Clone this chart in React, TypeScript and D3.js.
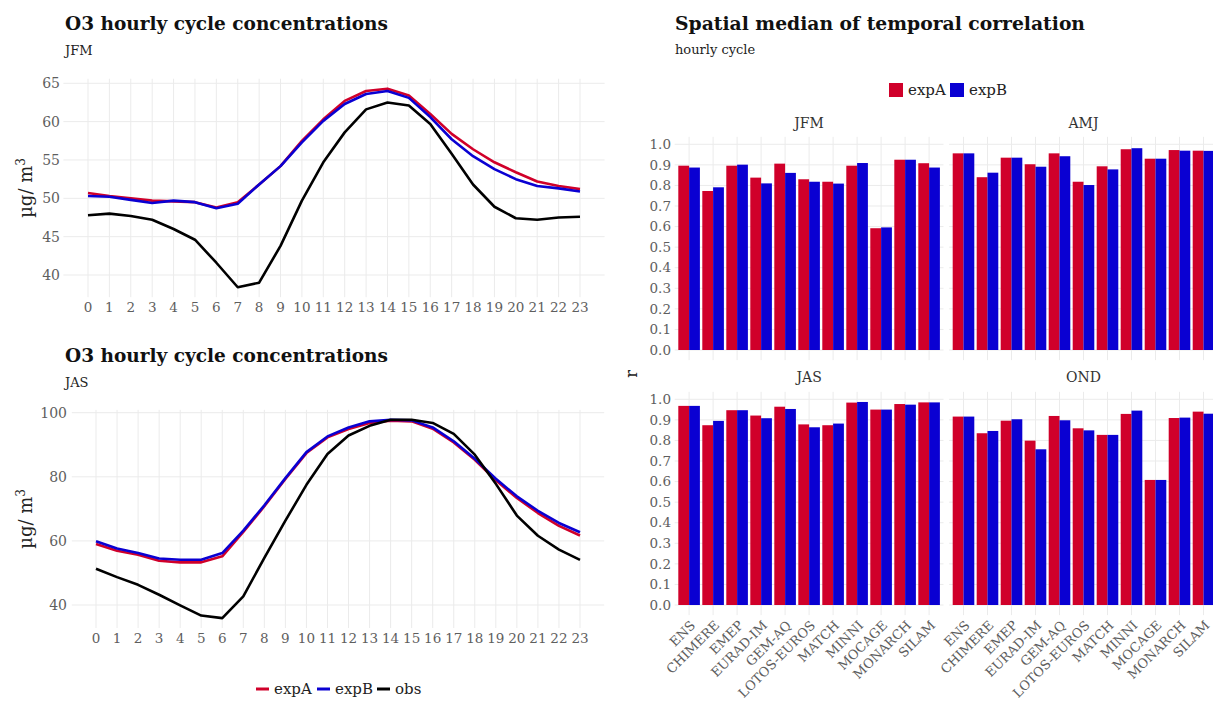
import React from "react";
import * as d3 from "d3";

// ---------- DATA ----------
const HOURS = [0, 1, 2, 3, 4, 5, 6, 7, 8, 9, 10, 11, 12, 13, 14, 15, 16, 17, 18, 19, 20, 21, 22, 23];

const jfmExpA = [50.7, 50.3, 50.0, 49.7, 49.6, 49.5, 48.8, 49.5, 51.8, 54.2, 57.5, 60.3, 62.7, 64.0, 64.3, 63.4, 61.0, 58.4, 56.4, 54.7, 53.4, 52.2, 51.6, 51.2];
const jfmExpB = [50.3, 50.2, 49.8, 49.4, 49.7, 49.5, 48.7, 49.3, 51.8, 54.2, 57.3, 60.1, 62.3, 63.6, 64.0, 63.1, 60.6, 57.7, 55.5, 53.8, 52.5, 51.6, 51.3, 50.9];
const jfmObs = [47.8, 48.0, 47.7, 47.2, 46.0, 44.6, 41.6, 38.4, 39.0, 43.8, 49.7, 54.7, 58.6, 61.6, 62.5, 62.1, 59.7, 55.8, 51.8, 48.9, 47.4, 47.2, 47.5, 47.6];

const jasExpA = [59.0, 56.9, 55.7, 53.8, 53.3, 53.3, 55.2, 62.8, 70.8, 79.3, 87.4, 92.3, 94.9, 96.8, 97.5, 97.3, 95.0, 90.7, 85.3, 78.9, 73.4, 68.7, 64.7, 61.7];
const jasExpB = [59.9, 57.6, 56.2, 54.5, 54.1, 54.1, 56.2, 63.2, 71.1, 79.6, 87.7, 92.6, 95.4, 97.3, 97.8, 97.6, 95.4, 91.1, 85.6, 79.4, 73.9, 69.4, 65.6, 62.7];
const jasObs = [51.3, 48.7, 46.3, 43.2, 39.9, 36.7, 35.9, 42.7, 54.7, 66.3, 77.5, 87.1, 92.9, 95.9, 97.8, 97.8, 96.8, 93.4, 86.9, 77.8, 67.9, 61.6, 57.3, 54.1];

const jfmTicks = [40, 45, 50, 55, 60, 65];
const jasTicks = [40, 60, 80, 100];

const MODELS = ["ENS", "CHIMERE", "EMEP", "EURAD-IM", "GEM-AQ", "LOTOS-EUROS", "MATCH", "MINNI", "MOCAGE", "MONARCH", "SILAM"];
const SEASONS = ["JFM", "AMJ", "JAS", "OND"];
const EXPS = ["expA", "expB"];

const corrJFM_A = [0.896, 0.773, 0.896, 0.838, 0.906, 0.830, 0.818, 0.896, 0.592, 0.925, 0.908];
const corrJFM_B = [0.887, 0.791, 0.901, 0.810, 0.861, 0.818, 0.809, 0.909, 0.596, 0.925, 0.887];
const corrAMJ_A = [0.956, 0.840, 0.935, 0.903, 0.956, 0.818, 0.893, 0.976, 0.930, 0.972, 0.969];
const corrAMJ_B = [0.956, 0.862, 0.935, 0.891, 0.942, 0.802, 0.878, 0.981, 0.930, 0.969, 0.968];
const corrJAS_A = [0.968, 0.874, 0.947, 0.921, 0.964, 0.878, 0.874, 0.984, 0.950, 0.977, 0.985];
const corrJAS_B = [0.968, 0.895, 0.947, 0.908, 0.953, 0.864, 0.882, 0.987, 0.950, 0.974, 0.985];
const corrOND_A = [0.916, 0.835, 0.896, 0.799, 0.919, 0.859, 0.827, 0.929, 0.608, 0.909, 0.940];
const corrOND_B = [0.916, 0.846, 0.903, 0.757, 0.898, 0.849, 0.827, 0.945, 0.608, 0.911, 0.930];

const rTicks = [0, 0.1, 0.2, 0.3, 0.4, 0.5, 0.6, 0.7, 0.8, 0.9, 1.0];

// ---------- STYLE ----------
const RED = "#D0002A";
const BLUE = "#0A00D2";
const BLACK = "#000000";
const GRID = "#EBEBEB";
const TICK = "#5E5E5E";
const FONT = "DejaVu Serif";

type Series = { name: string; values: number[]; color: string };

function LinePanel(props: {
  title: string;
  subtitle: string;
  titleY: number;
  series: Series[];
  ticks: number[];
  xMap: [number, number];
  yTickMap: [number, number, number, number]; // v0, px0, v1, px1
  labelX: number;
  tickLabelX: number;
}) {
  const { series, ticks, xMap, yTickMap } = props;
  const x = d3.scaleLinear().domain([0, 23]).range(xMap);
  const y = d3.scaleLinear().domain([yTickMap[0], yTickMap[2]]).range([yTickMap[1], yTickMap[3]]);
  const all = series.flatMap((s) => s.values);
  const [mn, mx] = d3.extent(all) as [number, number];
  const pad = (mx - mn) * 0.05;
  const yTop = y(mx + pad);
  const yBot = y(mn - pad);
  const xL = x(-23 * 0.05);
  const xR = x(23 * 1.05);
  const line = d3
    .line<number>()
    .x((_, i) => x(HOURS[i]))
    .y((d) => y(d));
  const midY = (yTop + yBot) / 2;
  return (
    <g>
      <text x={65} y={props.titleY} fontSize={19} fontWeight="bold" fill="#111" textLength={323} lengthAdjust="spacingAndGlyphs">
        {props.title}
      </text>
      <text x={65} y={props.titleY + 25} fontSize={13} fill="#222">
        {props.subtitle}
      </text>
      {ticks.map((t) => (
        <line key={"h" + t} x1={xL} x2={xR} y1={y(t)} y2={y(t)} stroke={GRID} strokeWidth={1} />
      ))}
      {HOURS.map((h) => (
        <line key={"v" + h} x1={x(h)} x2={x(h)} y1={yTop} y2={yBot} stroke={GRID} strokeWidth={1} />
      ))}
      {ticks.map((t) => (
        <text key={"yt" + t} x={props.tickLabelX} y={y(t)} dy="0.35em" textAnchor="end" fontSize={14} fill={TICK}>
          {t}
        </text>
      ))}
      {HOURS.map((h) => (
        <text key={"xt" + h} x={x(h)} y={yBot + 15} textAnchor="middle" fontSize={13.5} fill={TICK}>
          {h}
        </text>
      ))}
      <text transform={`translate(${props.labelX},${midY}) rotate(-90)`} textAnchor="middle" fontSize={18} fill="#222">
        µg/ m<tspan dy={-7} fontSize={12}>3</tspan>
      </text>
      {series.map((s) => (
        <path key={s.name} d={line(s.values) || ""} fill="none" stroke={s.color} strokeWidth={2.6} strokeLinejoin="round" strokeLinecap="butt" />
      ))}
    </g>
  );
}

function LineLegend() {
  const items = [
    { name: "expA", color: RED, x: 256 },
    { name: "expB", color: BLUE, x: 317 },
    { name: "obs", color: BLACK, x: 377 },
  ];
  const y = 689;
  return (
    <g>
      {items.map((it) => (
        <g key={it.name}>
          <line x1={it.x} x2={it.x + 13} y1={y} y2={y} stroke={it.color} strokeWidth={3} />
          <text x={it.x + 18} y={y} dy="0.33em" fontSize={15} fill="#222">
            {it.name}
          </text>
        </g>
      ))}
    </g>
  );
}

function BarFacets() {
  const valuesA = [corrJFM_A, corrAMJ_A, corrJAS_A, corrOND_A];
  const valuesB = [corrJFM_B, corrAMJ_B, corrJAS_B, corrOND_B];
  const all = [...valuesA.flat(), ...valuesB.flat()];
  const mx = d3.max(all) as number;
  const pad = mx * 0.05;
  const colX: [number, number][] = [
    [674.7, 943.5],
    [949.1, 1217.9],
  ];
  const rowZero = [350, 605];
  const unitPx = 205.7;
  const stripY = [123, 377];
  return (
    <g>
      <text x={675} y={30} fontSize={19} fontWeight="bold" fill="#111" textLength={410} lengthAdjust="spacingAndGlyphs">
        Spatial median of temporal correlation
      </text>
      <text x={675} y={54} fontSize={13} fill="#222">
        hourly cycle
      </text>
      {/* legend */}
      <rect x={889} y={83} width={14} height={14} fill={RED} />
      <text x={908} y={90} dy="0.35em" fontSize={15} fill="#222">
        expA
      </text>
      <rect x={950} y={83} width={14} height={14} fill={BLUE} />
      <text x={969} y={90} dy="0.35em" fontSize={15} fill="#222">
        expB
      </text>
      <text transform={`translate(637,374) rotate(-90)`} textAnchor="middle" fontSize={16} fill="#222">
        r
      </text>
      {SEASONS.map((season, si) => {
        const col = si % 2;
        const row = Math.floor(si / 2);
        const xb = d3.scaleBand<string>().domain(MODELS).range(colX[col]).paddingInner(0.1).paddingOuter(0.15);
        const xi = d3.scaleBand<string>().domain(EXPS).range([0, xb.bandwidth()]);
        const y = d3.scaleLinear().domain([0, 1]).range([rowZero[row], rowZero[row] - unitPx]);
        const top = y(mx + pad);
        const bot = y(-pad);
        const vals = [valuesA[si], valuesB[si]];
        return (
          <g key={season}>
            <text x={(colX[col][0] + colX[col][1]) / 2} y={stripY[row]} dy="0.35em" textAnchor="middle" fontSize={14} fill="#333">
              {season}
            </text>
            {rTicks.map((t) => (
              <line key={"h" + t} x1={colX[col][0]} x2={colX[col][1]} y1={y(t)} y2={y(t)} stroke={GRID} strokeWidth={1} />
            ))}
            {MODELS.map((m) => (
              <line key={"v" + m} x1={(xb(m) as number) + xb.bandwidth() / 2} x2={(xb(m) as number) + xb.bandwidth() / 2} y1={top} y2={bot} stroke={GRID} strokeWidth={1} />
            ))}
            {col === 0 &&
              rTicks.map((t) => (
                <text key={"yt" + t} x={671} y={y(t)} dy="0.35em" textAnchor="end" fontSize={13.5} fill={TICK}>
                  {d3.format(".1f")(t)}
                </text>
              ))}
            {MODELS.map((m, mi) =>
              EXPS.map((e, ei) => (
                <rect
                  key={m + e}
                  x={(xb(m) as number) + (xi(e) as number)}
                  y={y(vals[ei][mi])}
                  width={xi.bandwidth()}
                  height={y(0) - y(vals[ei][mi])}
                  fill={ei === 0 ? RED : BLUE}
                />
              ))
            )}
            {row === 1 &&
              MODELS.map((m) => {
                const cx = (xb(m) as number) + xb.bandwidth() / 2;
                return (
                  <text key={"xl" + m} transform={`translate(${cx + 7},${bot + 11}) rotate(-45)`} textAnchor="end" fontSize={13} fill={TICK}>
                    {m}
                  </text>
                );
              })}
          </g>
        );
      })}
    </g>
  );
}

export default function App() {
  return (
    <svg
      width={1213}
      height={707}
      style={{ position: "absolute", left: 0, top: 0, background: "#fff" }}
      fontFamily={FONT}
    >
      <rect x={0} y={0} width={1213} height={707} fill="#fff" />
      <LinePanel
        title="O3 hourly cycle concentrations"
        subtitle="JFM"
        titleY={30}
        series={[
          { name: "expA", values: jfmExpA, color: RED },
          { name: "expB", values: jfmExpB, color: BLUE },
          { name: "obs", values: jfmObs, color: BLACK },
        ]}
        ticks={jfmTicks}
        xMap={[88, 580]}
        yTickMap={[40, 275, 65, 83.3]}
        labelX={32}
        tickLabelX={60}
      />
      <LinePanel
        title="O3 hourly cycle concentrations"
        subtitle="JAS"
        titleY={362}
        series={[
          { name: "expA", values: jasExpA, color: RED },
          { name: "expB", values: jasExpB, color: BLUE },
          { name: "obs", values: jasObs, color: BLACK },
        ]}
        ticks={jasTicks}
        xMap={[96, 580]}
        yTickMap={[40, 605, 100, 412.7]}
        labelX={32}
        tickLabelX={67}
      />
      <LineLegend />
      <BarFacets />
    </svg>
  );
}
